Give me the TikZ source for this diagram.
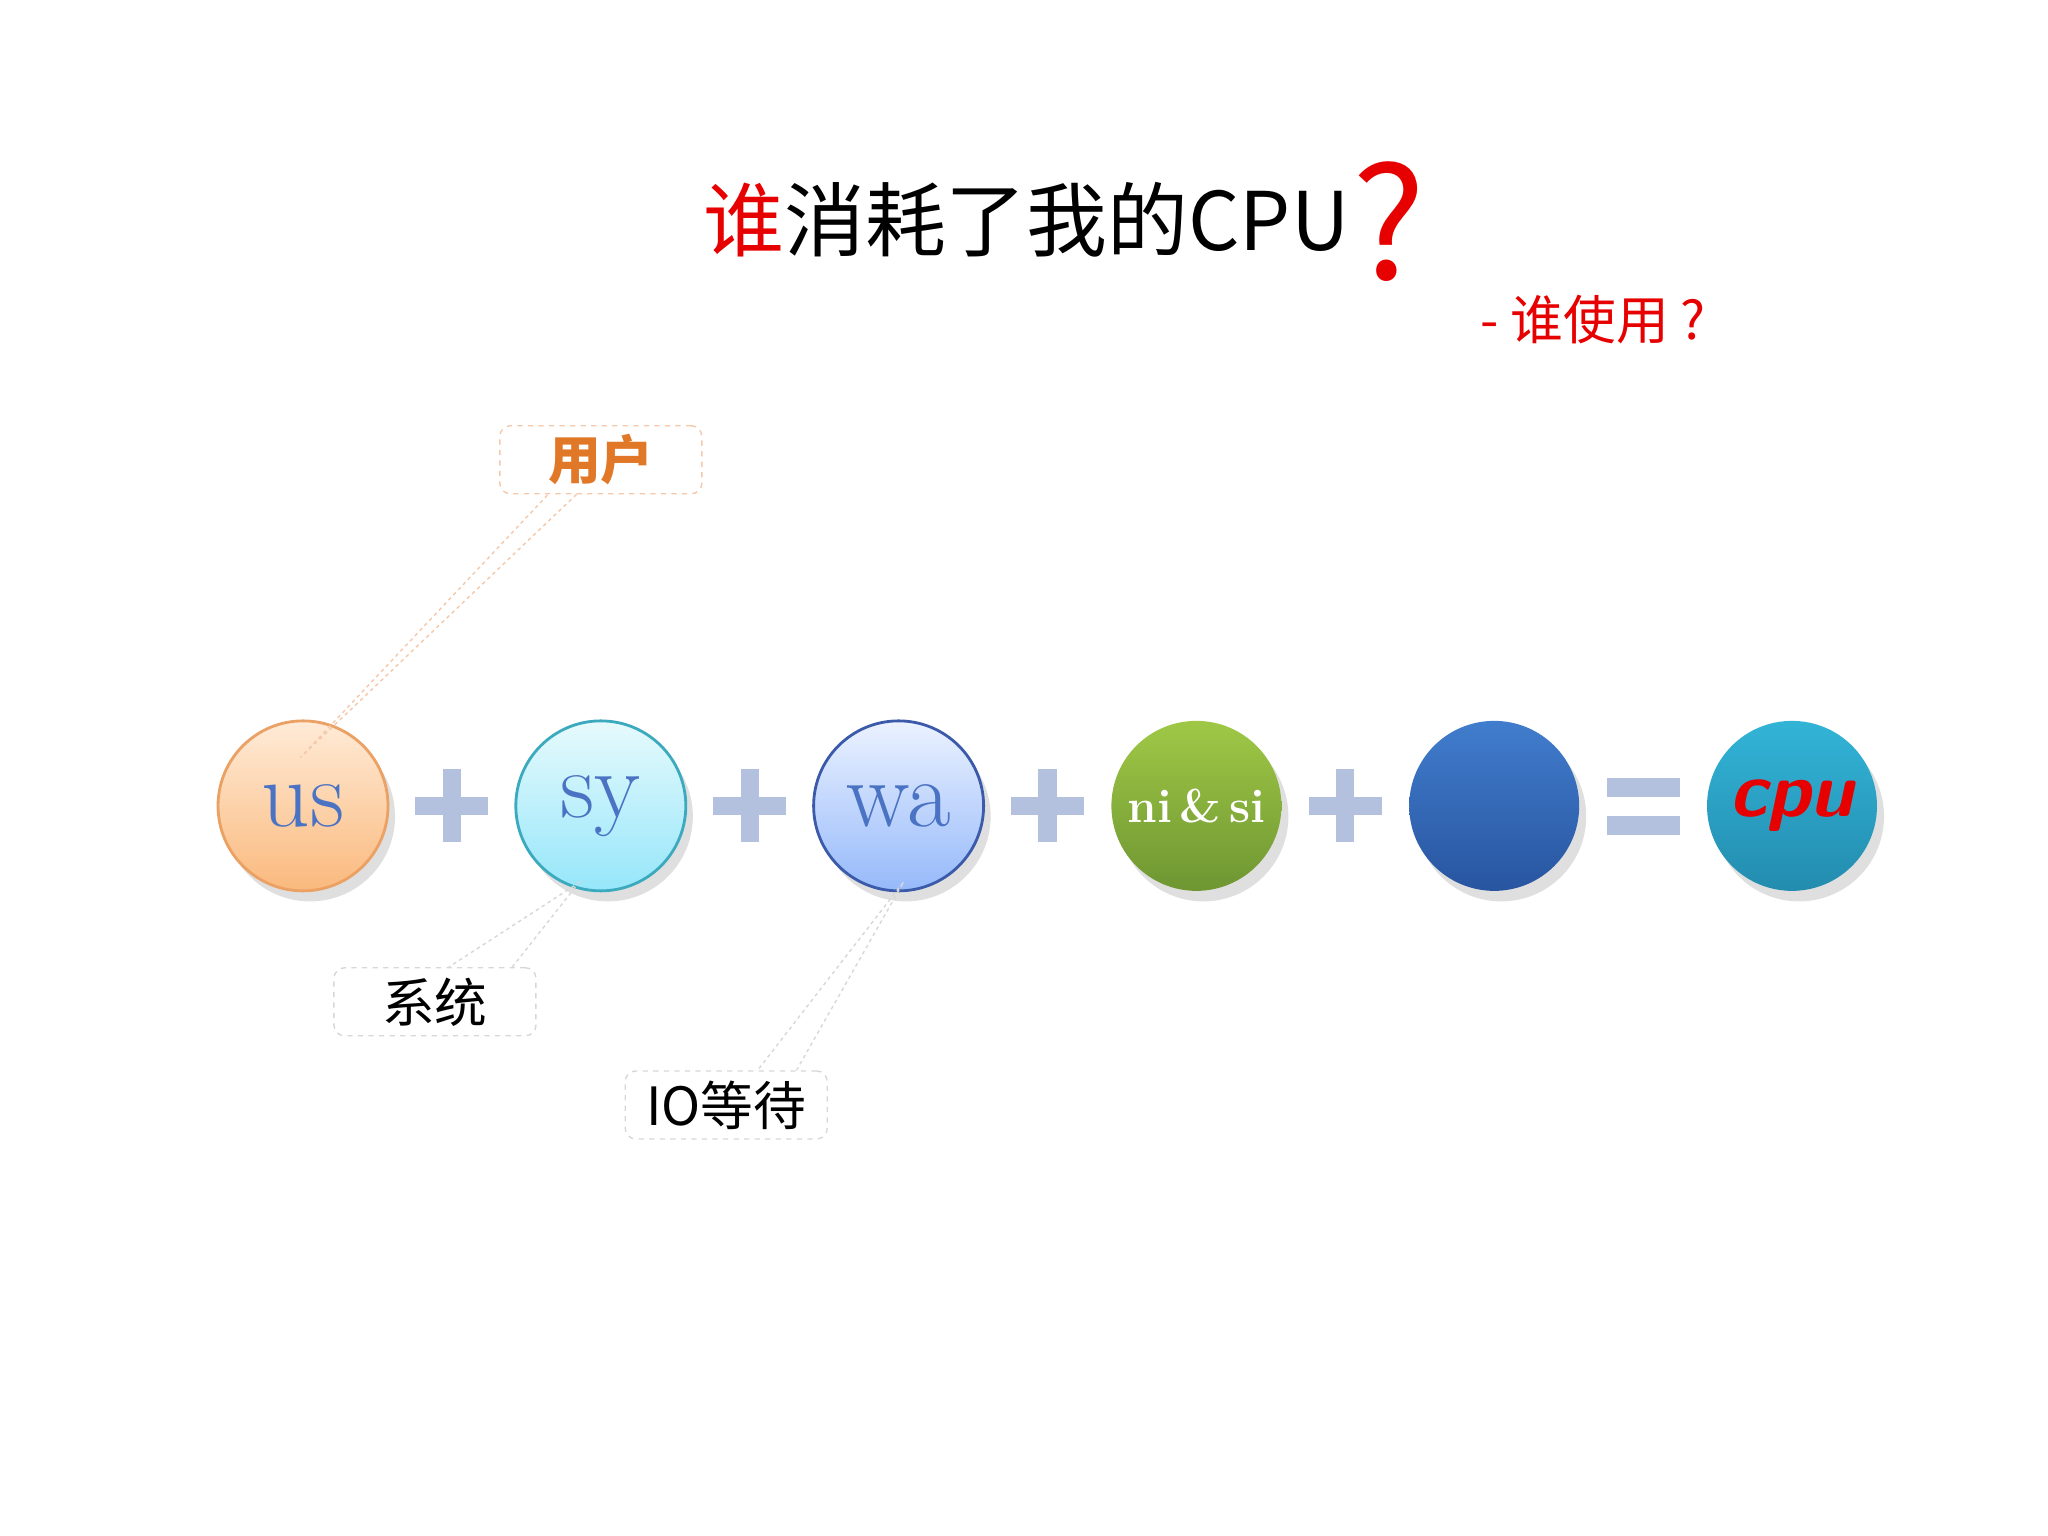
\documentclass[tikz,border=0pt]{standalone}
\usepackage{fontspec}
\newfontfamily\cjk{Noto Sans CJK SC}
\usetikzlibrary{shadows}
\definecolor{opc}{RGB}{180,193,222}
\definecolor{lbl}{RGB}{75,115,195}
\definecolor{tred}{RGB}{230,0,0}
\definecolor{orb}{RGB}{245,200,170}
\definecolor{grb}{RGB}{215,215,215}
\definecolor{ort}{RGB}{225,120,40}
\definecolor{usd}{RGB}{235,160,100}\definecolor{ust}{RGB}{255,235,215}\definecolor{usb}{RGB}{250,185,125}
\definecolor{syd}{RGB}{60,170,190}\definecolor{syt}{RGB}{230,250,252}\definecolor{syb}{RGB}{150,230,250}
\definecolor{wad}{RGB}{60,90,170}\definecolor{wat}{RGB}{235,242,255}\definecolor{wab}{RGB}{150,185,250}
\definecolor{nit}{RGB}{160,200,70}\definecolor{nib}{RGB}{110,150,50}
\definecolor{blt}{RGB}{65,125,205}\definecolor{blb}{RGB}{40,85,160}
\definecolor{cpt}{RGB}{50,180,215}\definecolor{cpb}{RGB}{35,140,175}
\begin{document}
\begin{tikzpicture}[x=0.01306cm,y=-0.01306cm,
  ball/.style={circle,minimum size=1.7cm,inner sep=0pt,line width=0.8pt,drop shadow={opacity=0.25,shadow xshift=2pt,shadow yshift=-3pt}},
  callout/.style={draw=#1,dash pattern=on 1.5pt off 1.5pt,line width=0.4pt,rounded corners=3pt,minimum width=2.02cm,minimum height=0.68cm,inner sep=0pt},
  lead/.style={draw=#1,dash pattern=on 1pt off 1pt,line width=0.4pt},
  op/.style={fill=opc,draw=none}]
\useasboundingbox (0,0) rectangle (1568,1176);
% title
\node[anchor=base west,inner sep=0pt,font=\cjk\fontsize{23}{23}\selectfont] (title) at (538,192) {\textcolor{tred}{谁}消耗了我的CPU};
\node[anchor=base west,inner sep=0pt,font=\cjk\fontsize{44}{44}\selectfont,text=tred] (q) at (1035,214) {?};
\node[anchor=base west,inner sep=0pt,font=\cjk\fontsize{15}{15}\selectfont,text=tred] (sub) at (1133,260) {- 谁使用 ?};
% balls
\node[ball,draw=usd,top color=ust,bottom color=usb,font=\fontsize{27}{27}\selectfont,text=lbl] (us) at (232,617) {us};
\node[ball,draw=syd,top color=syt,bottom color=syb,font=\fontsize{27}{27}\selectfont,text=lbl] (sy) at (460,617) {sy};
\node[ball,draw=wad,top color=wat,bottom color=wab,font=\fontsize{27}{27}\selectfont,text=lbl] (wa) at (688,617) {wa};
\node[ball,draw=none,top color=nit,bottom color=nib,font=\bfseries\fontsize{13.5}{14}\selectfont,text=white] (ni) at (916,617) {ni\,\&\,si};
\node[ball,draw=none,top color=blt,bottom color=blb] (blank) at (1144,617) {};
\node[ball,draw=none,top color=cpt,bottom color=cpb,font=\sffamily\bfseries\itshape\fontsize{22}{22}\selectfont,text=tred] (cpu) at (1372,617) {cpu};
% operators
\foreach \x in {346,574,802,1030}{
  \fill[op] (\x-28,610) rectangle (\x+28,624);
  \fill[op] (\x-7,589) rectangle (\x+7,645);}
\fill[op] (1230,596) rectangle (1286,610);
\fill[op] (1230,625) rectangle (1286,639);
% callouts
\node[callout=orb,font=\cjk\bfseries\fontsize{15}{15}\selectfont,text=ort] (user) at (460,352) {用户};
\node[callout=grb,font=\cjk\fontsize{15}{15}\selectfont] (sys) at (333,767) {系统};
\node[callout=grb,font=\cjk\fontsize{15}{15}\selectfont] (io) at (556,846) {IO等待};
\coordinate (uspt) at (230,580);
\coordinate (sypt) at (443,676);
\coordinate (wapt) at (692,675);
\draw[lead=orb] ([xshift=22]user.south west) -- (uspt) -- ([xshift=-15]user.south);
\draw[lead=grb] ([xshift=22]sys.north) -- (sypt) -- ([xshift=-25]sys.north east);
\draw[lead=grb] ([xshift=20]io.north) -- (wapt) -- ([xshift=-20]io.north east);
\end{tikzpicture}
\end{document}
